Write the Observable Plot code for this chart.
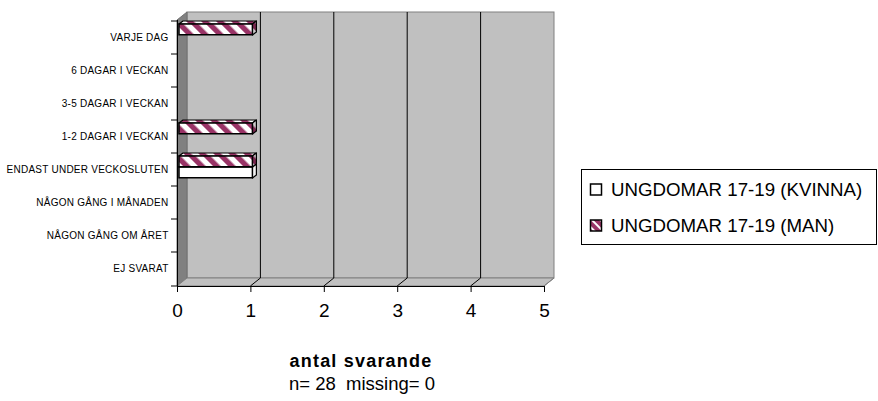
<!DOCTYPE html>
<html>
<head>
<meta charset="utf-8">
<script src="https://cdn.jsdelivr.net/npm/d3@7"></script>
<script src="https://cdn.jsdelivr.net/npm/@observablehq/plot@0.6"></script>
<style>
  html, body { margin: 0; padding: 0; background: #fff; }
  body { font-family: "Liberation Sans", Arial, sans-serif; }
  #wrap { position: relative; width: 878px; height: 401px; overflow: hidden; }
  #chart { position: absolute; left: 0; top: 0; }
  #overlay { position: absolute; left: 0; top: 0; pointer-events: none; }
  g[aria-label="y-axis tick label"] text { letter-spacing: 0.25px; }
</style>
</head>
<body>
<div id="wrap">
  <div id="chart"></div>
  <svg id="overlay" width="878" height="401" font-family="Liberation Sans, Arial, sans-serif"></svg>
</div>
<script>
// ---------- data ----------
const categories = [
  "VARJE DAG",
  "6 DAGAR I VECKAN",
  "3-5 DAGAR I VECKAN",
  "1-2 DAGAR I VECKAN",
  "ENDAST UNDER VECKOSLUTEN",
  "NÅGON GÅNG I MÅNADEN",
  "NÅGON GÅNG OM ÅRET",
  "EJ SVARAT"
];
const seriesNames = ["UNGDOMAR 17-19 (KVINNA)", "UNGDOMAR 17-19 (MAN)"];
const kvinnaValues = [0, 0, 0, 0, 1, 0, 0, 0];
const manValues    = [1, 0, 0, 1, 1, 0, 0, 0];
const xTicks = [0, 1, 2, 3, 4, 5];
const xTitle = "antal svarande";
const noteText = "n= 28  missing= 0";

// ---------- layout / style constants ----------
const W = 878, H = 330;
const M = {top: 20, right: 334, bottom: 44, left: 177};
const WALL = {dx: 10, dy: -8};
const BAR = {dx: 2, depthX: 4, depthY: -3};
const BW = (H - M.top - M.bottom) / categories.length;
const MAN_TOP = 3, MAN_BOT = 14, KV_TOP = 14, KV_BOT = 25;
const PURPLE = "#993366";

const rows = (vals, name) => categories.map((c, i) => ({category: c, value: vals[i], series: name})).filter(d => d.value > 0);
const kvRows = rows(kvinnaValues, seriesNames[0]);
const manRows = rows(manValues, seriesNames[1]);

function customMark(draw) {
  return function(...args) {
    const scales = args.find(a => a && typeof a.x === "function" && typeof a.y === "function");
    const dims = args.find(a => a && typeof a.marginLeft === "number" && typeof a.width === "number");
    const g = d3.create("svg:g");
    draw(g, scales, dims);
    return g.node();
  };
}

const walls = customMark((g, s, dm) => {
  const x0 = s.x(xTicks[0]), x1 = s.x(xTicks[xTicks.length - 1]);
  const yT = dm.marginTop, yB = dm.height - dm.marginBottom;
  const {dx, dy} = WALL;
  g.append("rect").attr("x", x0 + dx).attr("y", yT + dy).attr("width", x1 - x0).attr("height", yB - yT)
    .attr("fill", "#c0c0c0").attr("stroke", "#808080");
  g.append("path").attr("d", `M${x0},${yT}L${x0 + dx},${yT + dy}L${x0 + dx},${yB + dy}L${x0},${yB}Z`)
    .attr("fill", "#808080").attr("stroke", "#707070");
  g.append("path").attr("d", `M${x0},${yB}L${x1},${yB}L${x1 + dx},${yB + dy}L${x0 + dx},${yB + dy}Z`)
    .attr("fill", "#c0c0c0").attr("stroke", "#808080");
  for (const t of xTicks.slice(1)) {
    const x = s.x(t);
    if (t !== xTicks[xTicks.length - 1]) {
      g.append("line").attr("x1", x + dx).attr("x2", x + dx).attr("y1", yT + dy).attr("y2", yB + dy)
        .attr("stroke", "#000");
    }
    g.append("line").attr("x1", x + dx).attr("x2", x).attr("y1", yB + dy).attr("y2", yB)
      .attr("stroke", t === xTicks[xTicks.length - 1] ? "#808080" : "#000");
  }
});

const catTicks = customMark((g, s, dm) => {
  const x0 = s.x(0);
  const yB = dm.height - dm.marginBottom;
  const ys = categories.map(c => s.y(c)).concat([yB]);
  for (const y of ys) {
    g.append("line").attr("x1", x0 - 6).attr("x2", x0).attr("y1", y).attr("y2", y).attr("stroke", "#000");
  }
});

function barFaces(data, top, bot, fillTop, fillSide) {
  return customMark((g, s) => {
    for (const d of data) {
      const xa = s.x(0) + BAR.dx, xb = s.x(d.value) + BAR.dx;
      const yt = s.y(d.category) + top, yb = s.y(d.category) + bot;
      const ex = BAR.depthX, ey = BAR.depthY;
      g.append("path").attr("d", `M${xa},${yt}L${xa + ex},${yt + ey}L${xb + ex},${yt + ey}L${xb},${yt}Z`)
        .attr("fill", fillTop).attr("stroke", "#000").attr("stroke-width", 1.2).attr("stroke-linejoin", "round");
      g.append("path").attr("d", `M${xb},${yt}L${xb + ex},${yt + ey}L${xb + ex},${yb + ey}L${xb},${yb}Z`)
        .attr("fill", fillSide).attr("stroke", "#000").attr("stroke-width", 1.2).attr("stroke-linejoin", "round");
    }
  });
}

const chart = Plot.plot({
  width: W,
  height: H,
  marginTop: M.top,
  marginRight: M.right,
  marginBottom: M.bottom,
  marginLeft: M.left,
  style: {fontFamily: "Liberation Sans, Arial, sans-serif", background: "white", color: "#000", overflow: "visible"},
  x: {domain: [xTicks[0], xTicks[xTicks.length - 1]]},
  y: {type: "band", domain: categories, padding: 0},
  marks: [
    walls,
    Plot.ruleX([0], {stroke: "#000"}),
    Plot.frame({anchor: "bottom", stroke: "#000"}),
    catTicks,
    Plot.axisX({ticks: xTicks, tickSize: 6, tickPadding: 11, fontSize: 19, label: null, tickFormat: d => String(d)}),
    Plot.axisY({tickSize: 0, tickPadding: 9, fontSize: 10, label: null}),
    barFaces(kvRows, KV_TOP, KV_BOT, "#ffffff", "#f2f2f2"),
    Plot.barX(kvRows, {x: "value", y: "category", fill: "#ffffff", stroke: "#000", strokeWidth: 1.5,
      insetTop: KV_TOP, insetBottom: BW - KV_BOT, dx: BAR.dx}),
    barFaces(manRows, MAN_TOP, MAN_BOT, "url(#hatch)", "url(#hatchDark)"),
    Plot.barX(manRows, {x: "value", y: "category", fill: "url(#hatch)", stroke: "#000", strokeWidth: 1.5,
      insetTop: MAN_TOP, insetBottom: BW - MAN_BOT, dx: BAR.dx})
  ]
});

// pattern definitions
const svgNode = chart.tagName.toLowerCase() === "svg" ? chart : chart.querySelector("svg");
const defs = d3.select(svgNode).insert("defs", ":first-child");
function hatch(id, bg, fg) {
  const p = defs.append("pattern").attr("id", id).attr("patternUnits", "userSpaceOnUse")
    .attr("width", 10.6).attr("height", 10.6).attr("patternTransform", "rotate(-45)");
  p.append("rect").attr("width", 10.6).attr("height", 10.6).attr("fill", bg);
  p.append("rect").attr("width", 5.3).attr("height", 10.6).attr("fill", fg);
}
hatch("hatch", "#ffffff", PURPLE);
hatch("hatchDark", "#cccccc", "#7a2850");

document.getElementById("chart").appendChild(chart);

// ---------- captions + legend ----------
const ov = d3.select("#overlay");
ov.append("text").attr("x", 361).attr("y", 367).attr("text-anchor", "middle")
  .attr("font-size", 18).attr("font-weight", "bold").attr("letter-spacing", "1.2px").text(xTitle);
ov.append("text").attr("x", 362).attr("y", 390).attr("text-anchor", "middle")
  .attr("font-size", 18.5).style("white-space", "pre").text(noteText);

const odefs = ov.append("defs");
{
  const p = odefs.append("pattern").attr("id", "lhatch").attr("patternUnits", "userSpaceOnUse")
    .attr("width", 6).attr("height", 6).attr("patternTransform", "rotate(-45)");
  p.append("rect").attr("width", 6).attr("height", 6).attr("fill", "#fff");
  p.append("rect").attr("width", 4).attr("height", 6).attr("fill", PURPLE);
}
const lg = ov.append("g");
lg.append("rect").attr("x", 581.5).attr("y", 169.5).attr("width", 295).attr("height", 75)
  .attr("fill", "#fff").attr("stroke", "#000");
const legendItems = [
  {name: seriesNames[0], fill: "#fff", y: 196},
  {name: seriesNames[1], fill: "url(#lhatch)", y: 232}
];
for (const it of legendItems) {
  lg.append("rect").attr("x", 590.5).attr("y", it.y - 12).attr("width", 11).attr("height", 11)
    .attr("fill", it.fill).attr("stroke", "#000").attr("stroke-width", 1.5);
  lg.append("text").attr("x", 611).attr("y", it.y).attr("font-size", 18.7).text(it.name);
}
</script>
</body>
</html>
